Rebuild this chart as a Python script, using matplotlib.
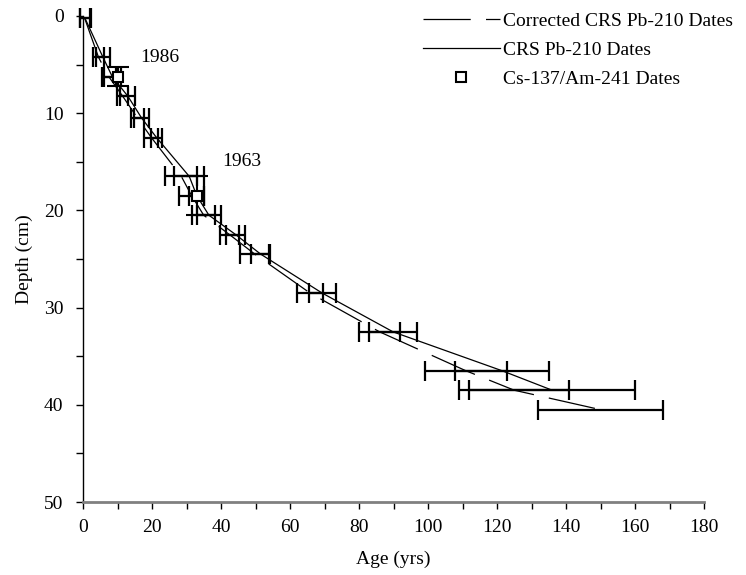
import matplotlib
matplotlib.use("Agg")
import matplotlib.pyplot as plt
from matplotlib.lines import Line2D

plt.rcParams['font.family'] = ['Liberation Serif', 'DejaVu Serif']
plt.rcParams['lines.scale_dashes'] = False

# Corrected CRS Pb-210 dates
corr_depth = [0.25, 4.25, 6.25, 8.25, 10.5, 12.5, 16.5, 18.5, 20.5, 22.5, 24.5, 28.5, 32.5, 36.5, 38.5, 40.5]
corr_age   = [0.5, 4.5, 7.5, 11.5, 15.8, 19.8, 28.5, 31.5, 35.0, 42.5, 49.8, 65.8, 86.0, 111.0, 125.0, 150.0]
corr_err   = [1.5, 1.6, 2.0, 1.6, 1.8, 2.0, 4.6, 3.7, 3.4, 2.7, 4.2, 3.8, 5.9, 12.0, 16.0, 18.0]

# CRS Pb-210 dates
crs_depth = [0.25, 4.25, 6.25, 8.25, 10.5, 12.5, 16.5, 18.5, 20.5, 22.5, 24.5, 28.5, 32.5, 36.5, 38.5]
crs_age   = [0.6, 5.8, 8.5, 13.0, 17.0, 21.3, 30.8, 33.0, 36.5, 44.3, 51.5, 69.3, 89.9, 121.5, 136.0]
crs_err   = [1.6, 2.1, 2.4, 2.2, 2.1, 1.6, 4.4, 2.2, 3.5, 2.8, 2.8, 3.9, 6.9, 13.6, 24.0]

# Cs-137 / Am-241 dates
cs_age   = [10.0, 33.0]
cs_depth = [6.25, 18.5]
cs_err   = [1.0, 2.0]
cs_labels = ['1986', '1963']
cs_label_pos = [(22.4, 4.3), (46.1, 15.0)]

fig = plt.figure(figsize=(7.46, 5.75), dpi=100)
ax = fig.add_axes([83/746, 1-502/575, (704-83)/746, (502-16)/575])

fs = 14

ax.plot(corr_age, corr_depth, color='black', lw=0.9, dashes=(34, 11))
ax.plot(crs_age, crs_depth, color='black', lw=0.9)
ax.errorbar(corr_age, corr_depth, xerr=corr_err, fmt='none', ecolor='black',
            elinewidth=1.6, capsize=7, capthick=1.6, clip_on=False)
ax.errorbar(crs_age, crs_depth, xerr=crs_err, fmt='none', ecolor='black',
            elinewidth=1.6, capsize=7, capthick=1.6, clip_on=False)
ax.errorbar(cs_age, cs_depth, yerr=cs_err, fmt='s', mfc='white', mec='black',
            ms=7, mew=1.5, ecolor='black', elinewidth=1.5, capsize=8, capthick=1.5,
            zorder=5, clip_on=False)

for lab, (x, y) in zip(cs_labels, cs_label_pos):
    ax.text(x, y, lab, fontsize=fs, ha='center', va='center')

ax.set_xlim(0, 180)
ax.set_ylim(50, 0)
ax.set_xticks(range(0, 181, 20))
ax.set_xticks(range(0, 181, 10), minor=True)
ax.set_yticks(range(0, 51, 10))
ax.set_yticks(range(0, 51, 5), minor=True)
ax.tick_params(axis='both', which='both', direction='out', labelsize=fs, length=5, width=1)
ax.tick_params(axis='y', pad=9)
ax.tick_params(axis='x', pad=7, colors='black')
ax.spines['top'].set_visible(False)
ax.spines['right'].set_visible(False)
ax.spines['bottom'].set_color('#808080')
ax.spines['bottom'].set_linewidth(2)
ax.spines['left'].set_linewidth(1)
ax.set_xlabel('Age (yrs)', fontsize=fs, labelpad=11)
ax.set_ylabel('Depth (cm)', fontsize=fs, labelpad=8)

handles = [
    Line2D([], [], color='black', lw=0.9, dashes=(34, 11)),
    Line2D([], [], color='black', lw=0.9),
    Line2D([], [], color='black', marker='s', ls='none', mfc='white', mec='black', ms=7, mew=1.5),
]
labels = ['Corrected CRS Pb-210 Dates', 'CRS Pb-210 Dates', 'Cs-137/Am-241 Dates']
fig.legend(handles, labels, loc='upper left', bbox_to_anchor=(423/746, 1-12/575),
           frameon=False, fontsize=fs, handlelength=3.95, handletextpad=0.15,
           labelspacing=0.6, borderpad=0, borderaxespad=0)

fig.savefig('out.png', dpi=100)
